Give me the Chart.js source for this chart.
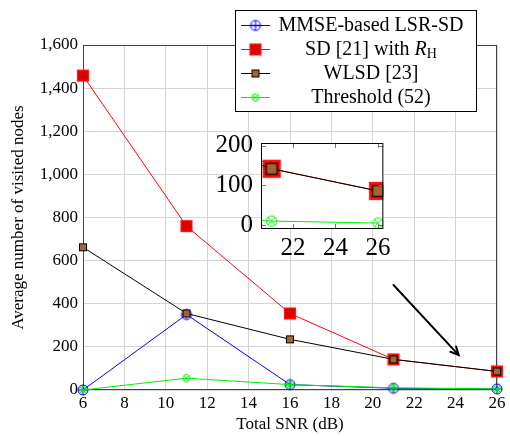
<!DOCTYPE html>
<html>
<head>
<meta charset="utf-8">
<script src="https://cdn.jsdelivr.net/npm/chart.js@4.4.1/dist/chart.umd.min.js"></script>
<style>
  html, body { margin: 0; padding: 0; background: #fff; }
  #wrap { position: relative; width: 510px; height: 436px; }
  #main-chart-id { position: absolute; left: 0; top: 0; }
  #inset-chart-id { position: absolute; left: 205px; top: 120px; }
</style>
</head>
<body>
<div id="wrap">
  <canvas id="main-chart-id" width="510" height="436"></canvas>
  <canvas id="inset-chart-id" width="190" height="145"></canvas>
</div>
<script>
// data
const snr = [6, 11, 16, 21, 26];
const mmseLsrSd = [0, 350, 25, 8, 5];
const sdWithRh = [1458, 760, 355, 142, 86];
const wlsd = [662, 355, 235, 142, 86];
const threshold = [0, 55, 25, 10, 5];

const xTicks = [6, 8, 10, 12, 14, 16, 18, 20, 22, 24, 26];
const yTicks = [0, 200, 400, 600, 800, 1000, 1200, 1400, 1600];
const insetXTicks = [22, 24, 26];
const insetYTicks = [0, 100, 200];

const legendLabels = ['MMSE-based LSR-SD', 'SD [21] with ', 'WLSD [23]', 'Threshold (52)'];

const FONT = "'Liberation Serif', 'Times New Roman', serif";

function pairs(ys) {
  return snr.map((x, i) => ({ x: x, y: ys[i] }));
}

// ===================== MARKERS =====================
function makeMarker(kind, s) {
  const size = Math.ceil(20 * s);
  const c = document.createElement('canvas');
  c.width = size; c.height = size;
  const g = c.getContext('2d');
  const m = size / 2;
  g.lineWidth = 1;
  if (kind === 'oplus') {
    const r = 5 * s;
    g.strokeStyle = '#0000ff';
    g.beginPath(); g.arc(m, m, r, 0, Math.PI * 2); g.stroke();
    g.beginPath();
    g.moveTo(m - r, m); g.lineTo(m + r, m);
    g.moveTo(m, m - r); g.lineTo(m, m + r);
    g.stroke();
  } else if (kind === 'red') {
    const h = 5.5 * s;
    g.fillStyle = '#dd0000';
    g.fillRect(m - h, m - h, 2 * h, 2 * h);
    g.strokeStyle = '#ff1a1a';
    g.lineWidth = 1.2 * s;
    g.strokeRect(m - h, m - h, 2 * h, 2 * h);
  } else if (kind === 'brown') {
    const h = 3.5 * s;
    g.fillStyle = '#a0672f';
    g.fillRect(m - h, m - h, 2 * h, 2 * h);
    g.strokeStyle = '#000';
    g.strokeRect(m - h, m - h, 2 * h, 2 * h);
  } else if (kind === 'otimes') {
    const r = 3.6 * s;
    const d = r * 0.707;
    g.strokeStyle = '#00ee00';
    g.beginPath(); g.arc(m, m, r, 0, Math.PI * 2); g.stroke();
    g.beginPath();
    g.moveTo(m - d, m - d); g.lineTo(m + d, m + d);
    g.moveTo(m - d, m + d); g.lineTo(m + d, m - d);
    g.stroke();
  }
  return c;
}

const mk = {
  oplus: makeMarker('oplus', 1),
  red: makeMarker('red', 1),
  brown: makeMarker('brown', 1),
  otimes: makeMarker('otimes', 1)
};
const mkBig = {
  red: makeMarker('red', 1.5),
  brown: makeMarker('brown', 1.5),
  otimes: makeMarker('otimes', 1.45)
};

function series(label, ys, color, marker, order, clip) {
  return {
    label: label,
    data: pairs(ys),
    borderColor: color,
    backgroundColor: color,
    borderWidth: 1,
    pointStyle: marker,
    pointRadius: 5,
    tension: 0,
    order: order,
    clip: clip
  };
}

// ===================== PLUGINS =====================
const framePlugin = {
  id: 'frame',
  beforeDatasetsDraw(chart, args, opts) {
    const a = chart.chartArea;
    const ctx = chart.ctx;
    ctx.save();
    ctx.strokeStyle = opts.color || '#444';
    ctx.lineWidth = 1;
    ctx.strokeRect(a.left + 0.5, a.top + 0.5, a.right - a.left - 1, a.bottom - a.top - 1);
    ctx.restore();
  }
};

const arrowPlugin = {
  id: 'arrow',
  afterDatasetsDraw(chart) {
    const xs = chart.scales.x, ys = chart.scales.y;
    const x1 = xs.getPixelForValue(21), y1 = ys.getPixelForValue(487);
    const x2 = xs.getPixelForValue(24.15), y2 = ys.getPixelForValue(162);
    const ctx = chart.ctx;
    const ang = Math.atan2(y2 - y1, x2 - x1);
    ctx.save();
    ctx.strokeStyle = '#000';
    ctx.lineWidth = 2;
    ctx.lineCap = 'round';
    ctx.beginPath();
    ctx.moveTo(x1, y1); ctx.lineTo(x2, y2);
    const L = 9;
    ctx.moveTo(x2 - L * Math.cos(ang - 0.45), y2 - L * Math.sin(ang - 0.45));
    ctx.lineTo(x2, y2);
    ctx.lineTo(x2 - L * Math.cos(ang + 0.45), y2 - L * Math.sin(ang + 0.45));
    ctx.stroke();
    ctx.restore();
  }
};

const legendPlugin = {
  id: 'boxLegend',
  afterDraw(chart) {
    const ctx = chart.ctx;
    const bx = 235.5, by = 10.5, bw = 241, bh = 101;
    const rows = [25, 49, 73, 97];
    const markers = [mk.oplus, mk.red, mk.brown, mk.otimes];
    const colors = ['#0000ff', '#ff0000', '#000000', '#00ee00'];
    const cx = 371;
    ctx.save();
    ctx.fillStyle = '#fff';
    ctx.fillRect(bx, by, bw, bh);
    ctx.strokeStyle = '#000';
    ctx.lineWidth = 1;
    ctx.strokeRect(bx, by, bw, bh);
    ctx.textBaseline = 'middle';
    rows.forEach((ry, i) => {
      ctx.strokeStyle = colors[i];
      ctx.beginPath();
      ctx.moveTo(241, ry + 0.5); ctx.lineTo(270, ry + 0.5);
      ctx.stroke();
      const m = markers[i];
      ctx.drawImage(m, 255.5 - m.width / 2, ry + 0.5 - m.height / 2);
      ctx.fillStyle = '#000';
      if (i === 1) {
        ctx.font = '20px ' + FONT;
        const w1 = ctx.measureText(legendLabels[1]).width;
        ctx.font = 'italic 20px ' + FONT;
        const w2 = ctx.measureText('R').width;
        ctx.font = '14px ' + FONT;
        const w3 = ctx.measureText('H').width;
        let x = cx - (w1 + w2 + w3) / 2;
        ctx.textAlign = 'left';
        ctx.font = '20px ' + FONT;
        ctx.fillText(legendLabels[1], x, ry + 1);
        x += w1;
        ctx.font = 'italic 20px ' + FONT;
        ctx.fillText('R', x, ry + 1);
        x += w2;
        ctx.font = '14px ' + FONT;
        ctx.fillText('H', x, ry + 5);
      } else {
        ctx.textAlign = 'center';
        ctx.font = '20px ' + FONT;
        ctx.fillText(legendLabels[i], cx, ry + 1);
      }
    });
    ctx.restore();
  }
};

const insetBgPlugin = {
  id: 'insetBg',
  beforeDraw(chart) {
    const a = chart.chartArea;
    const ctx = chart.ctx;
    ctx.save();
    ctx.fillStyle = '#fff';
    ctx.fillRect(a.left, a.top, a.right - a.left, a.bottom - a.top);
    ctx.restore();
  },
  afterDatasetsDraw(chart) {
    // inner tick marks like pgfplots
    const a = chart.chartArea;
    const ctx = chart.ctx;
    ctx.save();
    ctx.strokeStyle = '#777';
    ctx.lineWidth = 1;
    ctx.beginPath();
    insetXTicks.forEach(v => {
      const px = Math.round(chart.scales.x.getPixelForValue(v)) + 0.5;
      ctx.moveTo(px, a.top); ctx.lineTo(px, a.top + 5);
      ctx.moveTo(px, a.bottom); ctx.lineTo(px, a.bottom - 5);
    });
    insetYTicks.forEach(v => {
      const py = Math.round(chart.scales.y.getPixelForValue(v)) + 0.5;
      ctx.moveTo(a.left, py); ctx.lineTo(a.left + 5, py);
      ctx.moveTo(a.right, py); ctx.lineTo(a.right - 5, py);
    });
    ctx.stroke();
    ctx.strokeStyle = '#000';
    ctx.strokeRect(a.left + 0.5, a.top + 0.5, a.right - a.left - 1, a.bottom - a.top - 1);
    ctx.restore();
  }
};

// ===================== MAIN CHART =====================
const mainCtx = document.getElementById('main-chart-id');
new Chart(mainCtx, {
  type: 'line',
  data: {
    datasets: [
      series('MMSE-based LSR-SD', mmseLsrSd, '#0000ff', mk.oplus, 4, false),
      series('SD [21] with RH', sdWithRh, '#ff0000', mk.red, 3, false),
      series('WLSD [23]', wlsd, '#000000', mk.brown, 2, false),
      series('Threshold (52)', threshold, '#00ee00', mk.otimes, 1, false)
    ]
  },
  options: {
    responsive: false,
    devicePixelRatio: 1,
    animation: false,
    layout: { padding: { left: 0, right: 13, top: 45, bottom: 0 } },
    plugins: {
      legend: { display: false },
      tooltip: { enabled: false },
      frame: { color: '#444' }
    },
    scales: {
      x: {
        type: 'linear',
        min: 6,
        max: 26,
        afterBuildTicks: s => { s.ticks = xTicks.map(v => ({ value: v })); },
        afterFit: s => { s.height = 46; },
        grid: { color: '#d4d4d4', drawTicks: false },
        border: { display: false },
        ticks: { color: '#000', font: { family: FONT, size: 17 }, padding: 3, maxRotation: 0 },
        title: {
          display: true,
          text: 'Total SNR (dB)',
          color: '#000',
          font: { family: FONT, size: 17 },
          padding: { top: 0, bottom: 1 }
        }
      },
      y: {
        min: 0,
        max: 1600,
        afterBuildTicks: s => { s.ticks = yTicks.map(v => ({ value: v })); },
        afterFit: s => { s.width = 83; },
        grid: { color: '#d4d4d4', drawTicks: false },
        border: { display: false },
        ticks: {
          color: '#000',
          font: { family: FONT, size: 17 },
          padding: 5,
          callback: value => value.toLocaleString('en-US')
        },
        title: {
          display: true,
          text: 'Average number of visited nodes',
          color: '#000',
          font: { family: FONT, size: 17 },
          padding: { top: 8, bottom: 0 }
        }
      }
    }
  },
  plugins: [framePlugin, arrowPlugin, legendPlugin]
});

// ===================== INSET =====================
const insetCtx = document.getElementById('inset-chart-id');
new Chart(insetCtx, {
  type: 'line',
  data: {
    datasets: [
      series('SD [21] with RH', sdWithRh, '#ff0000', mkBig.red, 3, true),
      series('WLSD [23]', wlsd, '#000000', mkBig.brown, 2, true),
      series('Threshold (52)', threshold, '#00ee00', mkBig.otimes, 1, true)
    ]
  },
  options: {
    responsive: false,
    devicePixelRatio: 1,
    animation: false,
    layout: { padding: { left: 0, right: 11, top: 21, bottom: 0 } },
    plugins: { legend: { display: false }, tooltip: { enabled: false } },
    scales: {
      x: {
        type: 'linear',
        min: 20.5,
        max: 26.25,
        afterBuildTicks: s => { s.ticks = insetXTicks.map(v => ({ value: v })); },
        afterFit: s => { s.height = 36; },
        grid: { display: false, drawTicks: false },
        border: { display: false },
        ticks: { color: '#000', font: { family: FONT, size: 25 }, padding: 4, maxRotation: 0 }
      },
      y: {
        min: -10,
        max: 207,
        afterBuildTicks: s => { s.ticks = insetYTicks.map(v => ({ value: v })); },
        afterFit: s => { s.width = 56; },
        grid: { display: false, drawTicks: false },
        border: { display: false },
        ticks: { color: '#000', font: { family: FONT, size: 25 }, padding: 8 }
      }
    }
  },
  plugins: [insetBgPlugin]
});
</script>
</body>
</html>
